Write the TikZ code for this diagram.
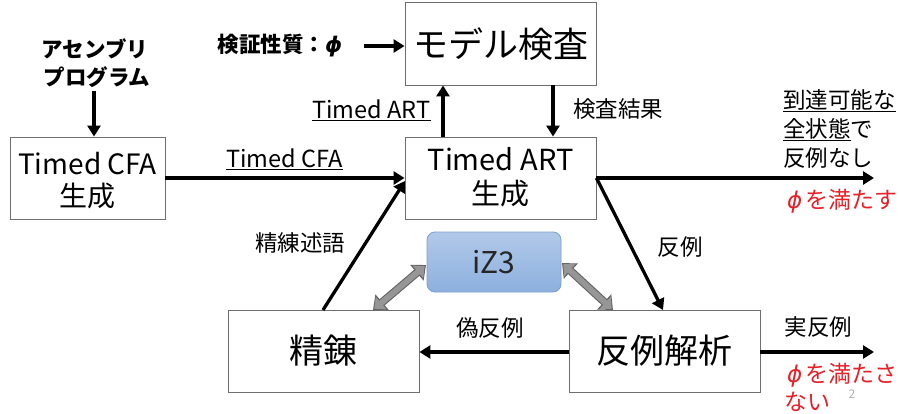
\documentclass[tikz,border=0pt]{standalone}
\usepackage{fontspec}
\setmainfont{Noto Sans CJK JP}
\newfontfamily\dvsans{DejaVu Sans}
\usetikzlibrary{arrows.meta,calc}
\definecolor{boxgray}{RGB}{110,110,110}
\definecolor{phired}{RGB}{232,32,40}
\definecolor{izfill1}{RGB}{178,201,233}
\definecolor{izfill2}{RGB}{140,176,222}
\definecolor{izdraw}{RGB}{125,160,204}
\definecolor{garrow}{RGB}{150,150,150}
\definecolor{garrowd}{RGB}{100,100,100}
\newcommand{\myphib}{{\dvsans\bfseries\itshape ϕ}}
\newcommand{\myphi}{{\dvsans\itshape ϕ}\hspace{3pt}}
\begin{document}
\begin{tikzpicture}[x=1pt,y=-1pt,
  box/.style={draw=boxgray, line width=0.9pt, fill=white, inner sep=0pt},
  flow/.style={line width=3.3pt, -{Triangle[length=11pt,width=13pt]}},
  lbl/.style={inner sep=0pt, font=\fontsize{22.5}{26}\selectfont},
  redlbl/.style={inner sep=0pt, text=phired, font=\fontsize{23}{26}\selectfont},
  gouter/.style={line width=8pt, draw=garrowd, {Triangle[length=12pt,width=20pt]}-{Triangle[length=12pt,width=20pt]}},
  ginner/.style={line width=5.8pt, draw=garrow, shorten <=1.7pt, shorten >=1.7pt, {Triangle[length=9pt,width=16pt]}-{Triangle[length=9pt,width=16pt]}}
]
\useasboundingbox (0,0) rectangle (899,414);
\fill[white] (0,0) rectangle (899,414);

% boxes
\node[box, minimum width=155, minimum height=82] (cfa) at (87.5,178) {};
\node[inner sep=0pt, font=\fontsize{28}{30}\selectfont] (cfat1) at (87.5,164) {Timed CFA};
\node[inner sep=0pt, font=\fontsize{28}{30}\selectfont] (cfat2) at (87.5,196) {生成};

\node[box, minimum width=191, minimum height=83] (mc) at (500.5,43.5) {};
\node[inner sep=0pt, font=\fontsize{35}{38}\selectfont] (mct) at (500.5,44) {モデル検査};

\node[box, minimum width=191, minimum height=82] (art) at (500.5,178) {};
\node[inner sep=0pt, font=\fontsize{29}{31}\selectfont] (artt1) at (500.5,159) {Timed ART};
\node[inner sep=0pt, font=\fontsize{29}{31}\selectfont] (artt2) at (500.5,194) {生成};

\node[draw=izdraw, line width=0.8pt, rounded corners=8pt, top color=izfill1, bottom color=izfill2,
      minimum width=134, minimum height=60, inner sep=0pt, font=\fontsize{30}{32}\selectfont, text=black!85] (iz) at (494,262) {iZ3};

\node[box, minimum width=191, minimum height=82, font=\fontsize{34}{36}\selectfont] (ref) at (323.5,351) {精錬};
\node[box, minimum width=191, minimum height=82, font=\fontsize{34}{36}\selectfont] (cex) at (664.5,351) {反例解析};

% inputs
\node[inner sep=0pt, font=\fontsize{21.5}{24}\bfseries\selectfont] (asm1) at (95,49) {アセンブリ};
\node[inner sep=0pt, font=\fontsize{21.5}{24}\bfseries\selectfont] (asm2) at (97,77) {プログラム};
\coordinate (asmbot) at (94,91);
\draw[flow] (asmbot) -- (cfa.north -| asmbot);

\node[inner sep=0pt, font=\fontsize{21.5}{24}\bfseries\selectfont] (prop) at (280,46) {検証性質{：}\myphib};
\coordinate (propend) at (364,46);
\draw[flow] (propend) -- (mc.west |- propend);

% main flow
\draw[flow] (cfa.east) -- (art.west);
\node[lbl, font=\fontsize{23.5}{26}\selectfont] (lcfa) at (284.5,159) {\underline{Timed CFA}};

\coordinate (upx) at (443,0);
\draw[flow] (art.north -| upx) -- (mc.south -| upx);
\node[lbl, font=\fontsize{23.5}{26}\selectfont] (lart) at (371.5,110) {\underline{Timed ART}};

\coordinate (dnx) at (553,0);
\draw[flow] (mc.south -| dnx) -- (art.north -| dnx);
\node[lbl] (lres) at (618,109) {検査結果};

\coordinate (outa) at (874,178);
\draw[flow] (art.east) -- (outa);
\node[lbl, align=left, anchor=north west, font=\fontsize{22.5}{29}\selectfont] (lnone) at (783,89) {\underline{到達可能な}\\\underline{全状態}で\\反例なし};
\node[redlbl, anchor=west] (sat) at (787,201) {\myphi を満たす};

\coordinate (cexin) at (663,310);
\draw[flow] (art.east) -- (cexin);
\node[lbl] (lcex) at (680,247) {反例};

\coordinate (outb) at (874,352);
\draw[flow] (cex.east |- outb) -- (outb);
\node[lbl] (lreal) at (818.5,327) {実反例};
\node[redlbl, anchor=west] (unsat1) at (787,375) {\myphi を満たさ};
\node[redlbl, anchor=west] (unsat2) at (784,402) {ない};
\node[inner sep=0pt, text=black!30, font=\fontsize{12}{13}\selectfont] (pgnum) at (852,394) {2};

\draw[flow] (cex.west |- outb) -- (ref.east |- outb);
\node[lbl] (lfake) at (490,328) {偽反例};

\coordinate (refout) at (323,310);
\coordinate (artin) at (405,181);
\draw[flow] (refout) -- (artin);
\node[lbl] (lpred) at (300,243) {精練述語};

% iZ3 double arrows
\coordinate (gl1) at (426,265);
\coordinate (gl2) at (373,310);
\coordinate (gr1) at (562,263);
\coordinate (gr2) at (613,310);
\draw[gouter] (gl1) -- (gl2);
\draw[ginner] (gl1) -- (gl2);
\draw[gouter] (gr1) -- (gr2);
\draw[ginner] (gr1) -- (gr2);
\end{tikzpicture}
\end{document}
